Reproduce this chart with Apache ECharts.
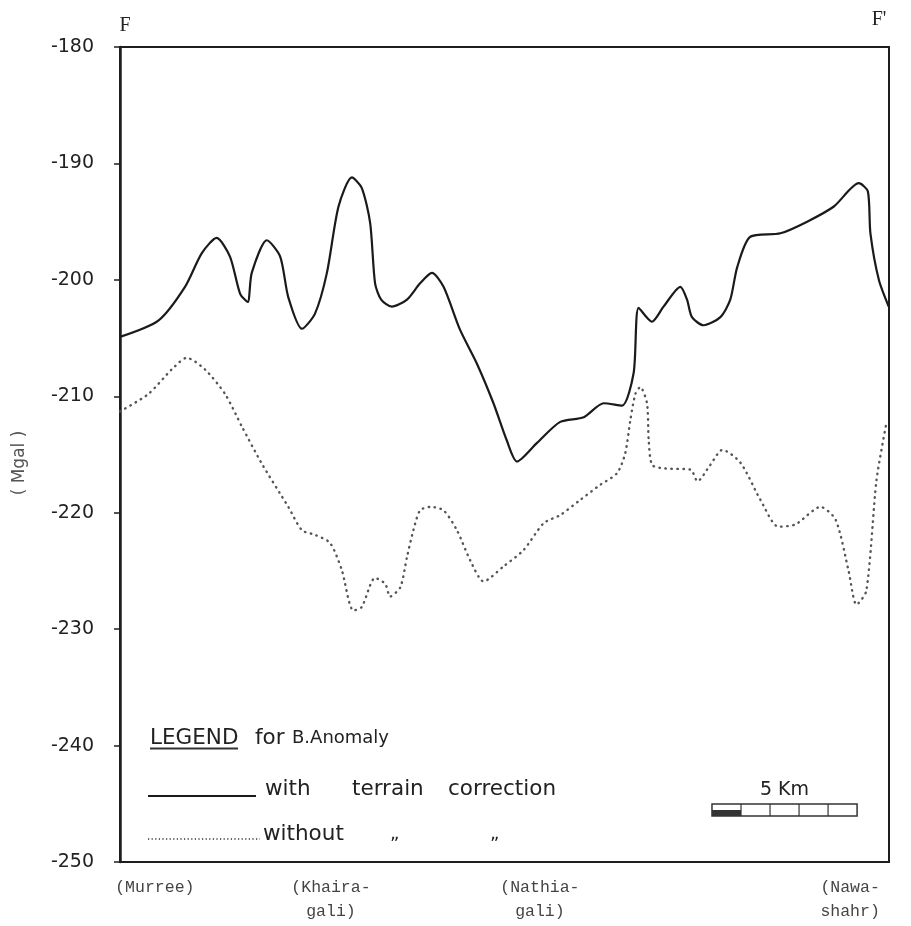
<!DOCTYPE html>
<html><head><meta charset="utf-8">
<script src="https://cdn.jsdelivr.net/npm/echarts@6/dist/echarts.min.js"></script>
<style>html,body{margin:0;padding:0;background:#fff}#c{width:911px;height:926px}</style>
</head><body><div id="c"></div>
<script>
// Distance along profile F-F' (km) and Bouguer anomaly (mGal)
const solidKm = [0,1.32,2.24,2.82,3.33,3.79,4.14,4.40,4.54,5.06,5.52,5.80,6.27,6.72,7.13,7.53,7.99,8.33,8.62,8.79,9.00,9.37,9.89,10.34,10.75,11.15,11.72,12.30,12.87,13.33,13.68,14.37,15.17,15.98,16.67,17.30,17.70,17.87,18.33,18.73,19.31,19.54,19.71,20.11,20.69,21.03,21.27,21.72,22.76,23.68,24.60,25.46,25.77,25.86,26.15,26.49];
const solidMgal = [-204.9,-203.5,-200.6,-197.7,-196.4,-198.0,-201.2,-201.9,-199.4,-196.6,-198.0,-201.5,-204.2,-202.9,-199.4,-193.7,-191.2,-192.1,-195.1,-200.3,-201.7,-202.3,-201.7,-200.3,-199.4,-200.6,-204.3,-207.2,-210.6,-213.8,-215.6,-214.0,-212.2,-211.8,-210.6,-210.8,-208.0,-202.4,-203.6,-202.3,-200.6,-201.7,-203.2,-203.9,-203.2,-201.7,-198.9,-196.3,-196.0,-195.0,-193.7,-191.7,-192.4,-196.0,-200.0,-202.3];
const dottedKm = [0,0.98,1.78,2.30,2.93,3.62,4.20,4.89,5.80,6.27,6.72,7.24,7.64,8.04,8.33,8.79,9.14,9.31,9.66,9.89,10.11,10.34,10.69,11.15,11.61,12.07,12.53,13.22,13.91,14.60,15.17,15.86,16.55,17.13,17.41,17.59,17.76,17.93,18.16,18.22,18.34,18.79,19.66,19.90,20.34,20.76,21.38,22.07,22.69,23.28,24.14,24.66,25.10,25.38,25.72,26.07,26.41];
const dottedMgal = [-211.3,-209.8,-207.7,-206.7,-207.7,-209.8,-212.6,-215.8,-219.5,-221.5,-221.9,-222.6,-224.9,-228.4,-228.1,-225.6,-226.1,-227.2,-226.4,-223.8,-221.5,-219.8,-219.5,-219.8,-221.5,-224.1,-225.9,-224.6,-223.2,-220.9,-220.2,-218.9,-217.6,-216.6,-214.9,-212.0,-209.8,-209.2,-210.6,-213.8,-215.9,-216.2,-216.3,-217.3,-215.9,-214.6,-215.7,-218.9,-221.2,-221.0,-219.5,-220.6,-224.9,-227.9,-226.7,-217.2,-212.3];
const yMin = -250, yMax = -180, yStep = 10;
const xMaxKm = 26.5;
const placeNames = ['(Murree)', '(Khaira-\ngali)', '(Nathia-\ngali)', '(Nawa-\nshahr)'];
const placeKm = [1.2, 7.27, 14.47, 25.16];
const scaleBarStartKm = 20.4, scaleBarLenKm = 5;

const pair = (xs, ys) => xs.map((x, i) => [x, ys[i]]);
const chart = echarts.init(document.getElementById('c'), null, {renderer: 'canvas'});
const txt = '#222';
chart.setOption({
  backgroundColor: '#fff',
  animation: false,
  grid: {left: 120, right: 22, top: 47, bottom: 64, show: true, borderColor: '#1e1e1e', borderWidth: 2, backgroundColor: 'transparent'},
  xAxis: {
    type: 'value', min: 0, max: xMaxKm,
    axisLine: {show: false}, axisTick: {show: false}, splitLine: {show: false},
    axisLabel: {
      customValues: placeKm,
      formatter: function (v) { let best = 0; placeKm.forEach((k, i) => { if (Math.abs(k - v) < Math.abs(placeKm[best] - v)) best = i; }); return placeNames[best]; },
      fontFamily: 'Liberation Mono', fontSize: 16.5, color: '#444', lineHeight: 24, margin: 14, align: 'center'
    }
  },
  yAxis: {
    type: 'value', min: yMin, max: yMax, interval: yStep,
    axisLine: {show: true, lineStyle: {color: '#1e1e1e', width: 2.5}},
    axisTick: {show: true, inside: false, length: 6, lineStyle: {color: '#1e1e1e', width: 1.5}},
    splitLine: {show: false},
    axisLabel: {fontFamily: 'DejaVu Sans', fontSize: 19, color: txt, margin: 26}
  },
  series: [
    {name: 'with terrain correction', type: 'line', data: pair(solidKm, solidMgal), showSymbol: false, smooth: 0.25,
     lineStyle: {color: '#1a1a1a', width: 2.2}},
    {name: 'without', type: 'line', data: pair(dottedKm, dottedMgal), showSymbol: false, smooth: 0.25,
     lineStyle: {color: '#555', width: 2.4, type: [0.5, 5.5], cap: 'round'}}
  ]
});

const px = km => chart.convertToPixel({xAxisIndex: 0}, km);
const g = [];
const t = (x, y, s, opt) => g.push(Object.assign({type: 'text', x: x, y: y, silent: true,
  style: Object.assign({text: s, fill: txt, font: '21.5px "DejaVu Sans"', textAlign: 'left', textVerticalAlign: 'middle'}, opt || {})}));
// F, F'
t(125, 26, 'F', {font: '20px "Liberation Serif"', textAlign: 'center'});
t(879, 20, "F'", {font: '20px "Liberation Serif"', textAlign: 'center'});
// y name
g.push({type: 'text', x: 20, y: 463, rotation: Math.PI / 2, silent: true,
  style: {text: '( Mgal )', fill: '#555', font: '17px "DejaVu Sans"', textAlign: 'center', textVerticalAlign: 'middle'}});
// legend
t(150, 738, 'LEGEND');
g.push({type: 'line', silent: true, shape: {x1: 150, y1: 748.5, x2: 238, y2: 748.5}, style: {stroke: '#333', lineWidth: 2}});
t(255, 738, 'for');
t(292, 738, 'B.Anomaly', {font: '18px "DejaVu Sans"'});
g.push({type: 'line', silent: true, shape: {x1: 148, y1: 796, x2: 256, y2: 796}, style: {stroke: '#1a1a1a', lineWidth: 2}});
t(265, 789, 'with');
t(352, 789, 'terrain');
t(448, 789, 'correction');
g.push({type: 'line', silent: true, shape: {x1: 148, y1: 839, x2: 260, y2: 839}, style: {stroke: '#666', lineWidth: 1.8, lineDash: [1.2, 2.4]}});
t(263, 834, 'without');
t(390, 834, '\u201E', {font: '18px "DejaVu Sans"'});
t(490, 834, '\u201E', {font: '18px "DejaVu Sans"'});
// scale bar
const x0 = px(scaleBarStartKm), x1 = px(scaleBarStartKm + scaleBarLenKm);
t((x0 + x1) / 2, 790, '5 Km', {textAlign: 'center', font: '19px "DejaVu Sans"'});
g.push({type: 'rect', silent: true, shape: {x: x0, y: 804, width: x1 - x0, height: 12}, style: {fill: '#fff', stroke: '#333', lineWidth: 1.5}});
g.push({type: 'rect', silent: true, shape: {x: x0, y: 810, width: px(scaleBarStartKm + 1) - x0, height: 6}, style: {fill: '#333'}});
for (let k = 1; k < scaleBarLenKm; k++) {
  const xx = px(scaleBarStartKm + k);
  g.push({type: 'line', silent: true, shape: {x1: xx, y1: 804, x2: xx, y2: 816}, style: {stroke: '#333', lineWidth: 1.2}});
}
chart.setOption({graphic: g});
</script>
</body></html>
